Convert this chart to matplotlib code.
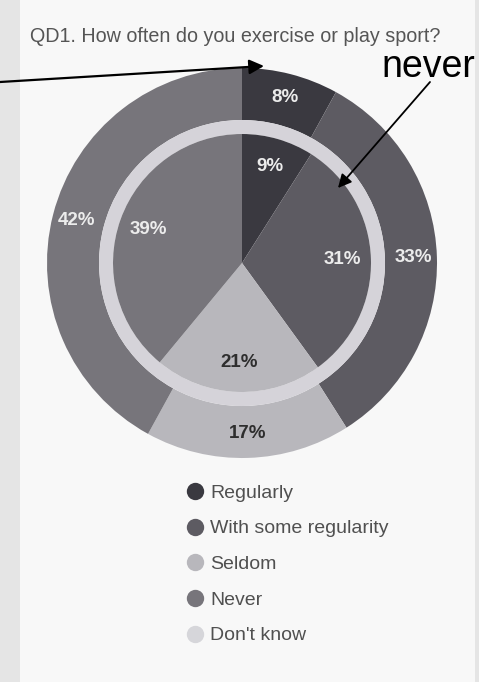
import matplotlib
matplotlib.use('Agg')
import matplotlib.pyplot as plt
from matplotlib.lines import Line2D
from matplotlib.patches import Rectangle, Wedge

plt.rcParams['font.family'] = ['Liberation Sans', 'DejaVu Sans']

# survey answers, outer ring and inner pie (percent)
categories = ['Regularly', 'With some regularity', 'Seldom', 'Never', "Don't know"]
outer_share = [8, 33, 17, 42, 0]
inner_share = [9, 31, 21, 39, 0]
colors = ['#3a3940', '#5d5b62', '#b8b7bc', '#77757b', '#d6d6da']
label_colors = ['#ececec', '#ececec', '#2e2e2e', '#ececec', '#2e2e2e']
title = 'QD1. How often do you exercise or play sport?'

W, H = 479, 682
fig = plt.figure(figsize=(W / 100, H / 100), dpi=100, facecolor='#f8f8f8')

# pie axes, placed in pixels
cx, cy, R = 242, 263, 195
ax = fig.add_axes([(cx - R) / W, (H - cy - R) / H, 2 * R / W, 2 * R / H])


def pct(p):
    return f'{p:.0f}%' if p > 0.5 else ''


_, _, out_txt = ax.pie(outer_share, radius=1, colors=colors, startangle=90,
                       counterclock=False, autopct=pct, pctdistance=0.877,
                       wedgeprops=dict(width=1 - 143 / R, linewidth=0),
                       textprops=dict(fontsize=13.5, fontweight='bold'))
# pale separator ring
ax.add_patch(Wedge((0, 0), 143 / R, 0, 360, width=14 / R, color='#d5d3d9', lw=0))
_, _, in_txt = ax.pie(inner_share, radius=129 / R, colors=colors, startangle=90,
                      counterclock=False, autopct=pct, pctdistance=0.775,
                      wedgeprops=dict(linewidth=0),
                      textprops=dict(fontsize=13.5, fontweight='bold'))
for txts in (out_txt, in_txt):
    for t, c in zip(txts, label_colors):
        t.set_color(c)
ax.set_xlim(-1, 1)
ax.set_ylim(-1, 1)
ax.axis('off')

# overlay in pixel coordinates for title, arrows and legend
ov = fig.add_axes([0, 0, 1, 1], zorder=3)
ov.set_xlim(0, W)
ov.set_ylim(H, 0)
ov.axis('off')
ov.patch.set_alpha(0)

ov.add_patch(Rectangle((0, 0), 20, H, color='#e5e5e5', lw=0))
ov.add_patch(Rectangle((475, 0), 4, H, color='#e5e5e5', lw=0))

ov.text(30, 37, title, fontsize=14.2, color='#555555', va='center', ha='left')

ov.annotate('', xy=(264, 66), xytext=(0, 82),
            arrowprops=dict(arrowstyle='-|>', color='black', lw=1.6,
                            mutation_scale=22, shrinkA=0, shrinkB=0))
ov.annotate('', xy=(338, 188), xytext=(430, 82),
            arrowprops=dict(arrowstyle='-|>', color='black', lw=1.3,
                            mutation_scale=20, shrinkA=0, shrinkB=0))
ov.text(475, 77, 'never', fontsize=27, ha='right', va='baseline', color='black')

handles = [Line2D([], [], ls='none', marker='o', markersize=12.5,
                  markerfacecolor=c, markeredgewidth=0) for c in colors]
ov.legend(handles, categories, loc='upper left', bbox_to_anchor=(183, 484),
          bbox_transform=ov.transData, frameon=False, fontsize=14,
          labelcolor='#505050', handlelength=1.2, handletextpad=0.2,
          labelspacing=0.93, borderpad=0, borderaxespad=0)

fig.savefig('out.png', dpi=100, facecolor=fig.get_facecolor())
